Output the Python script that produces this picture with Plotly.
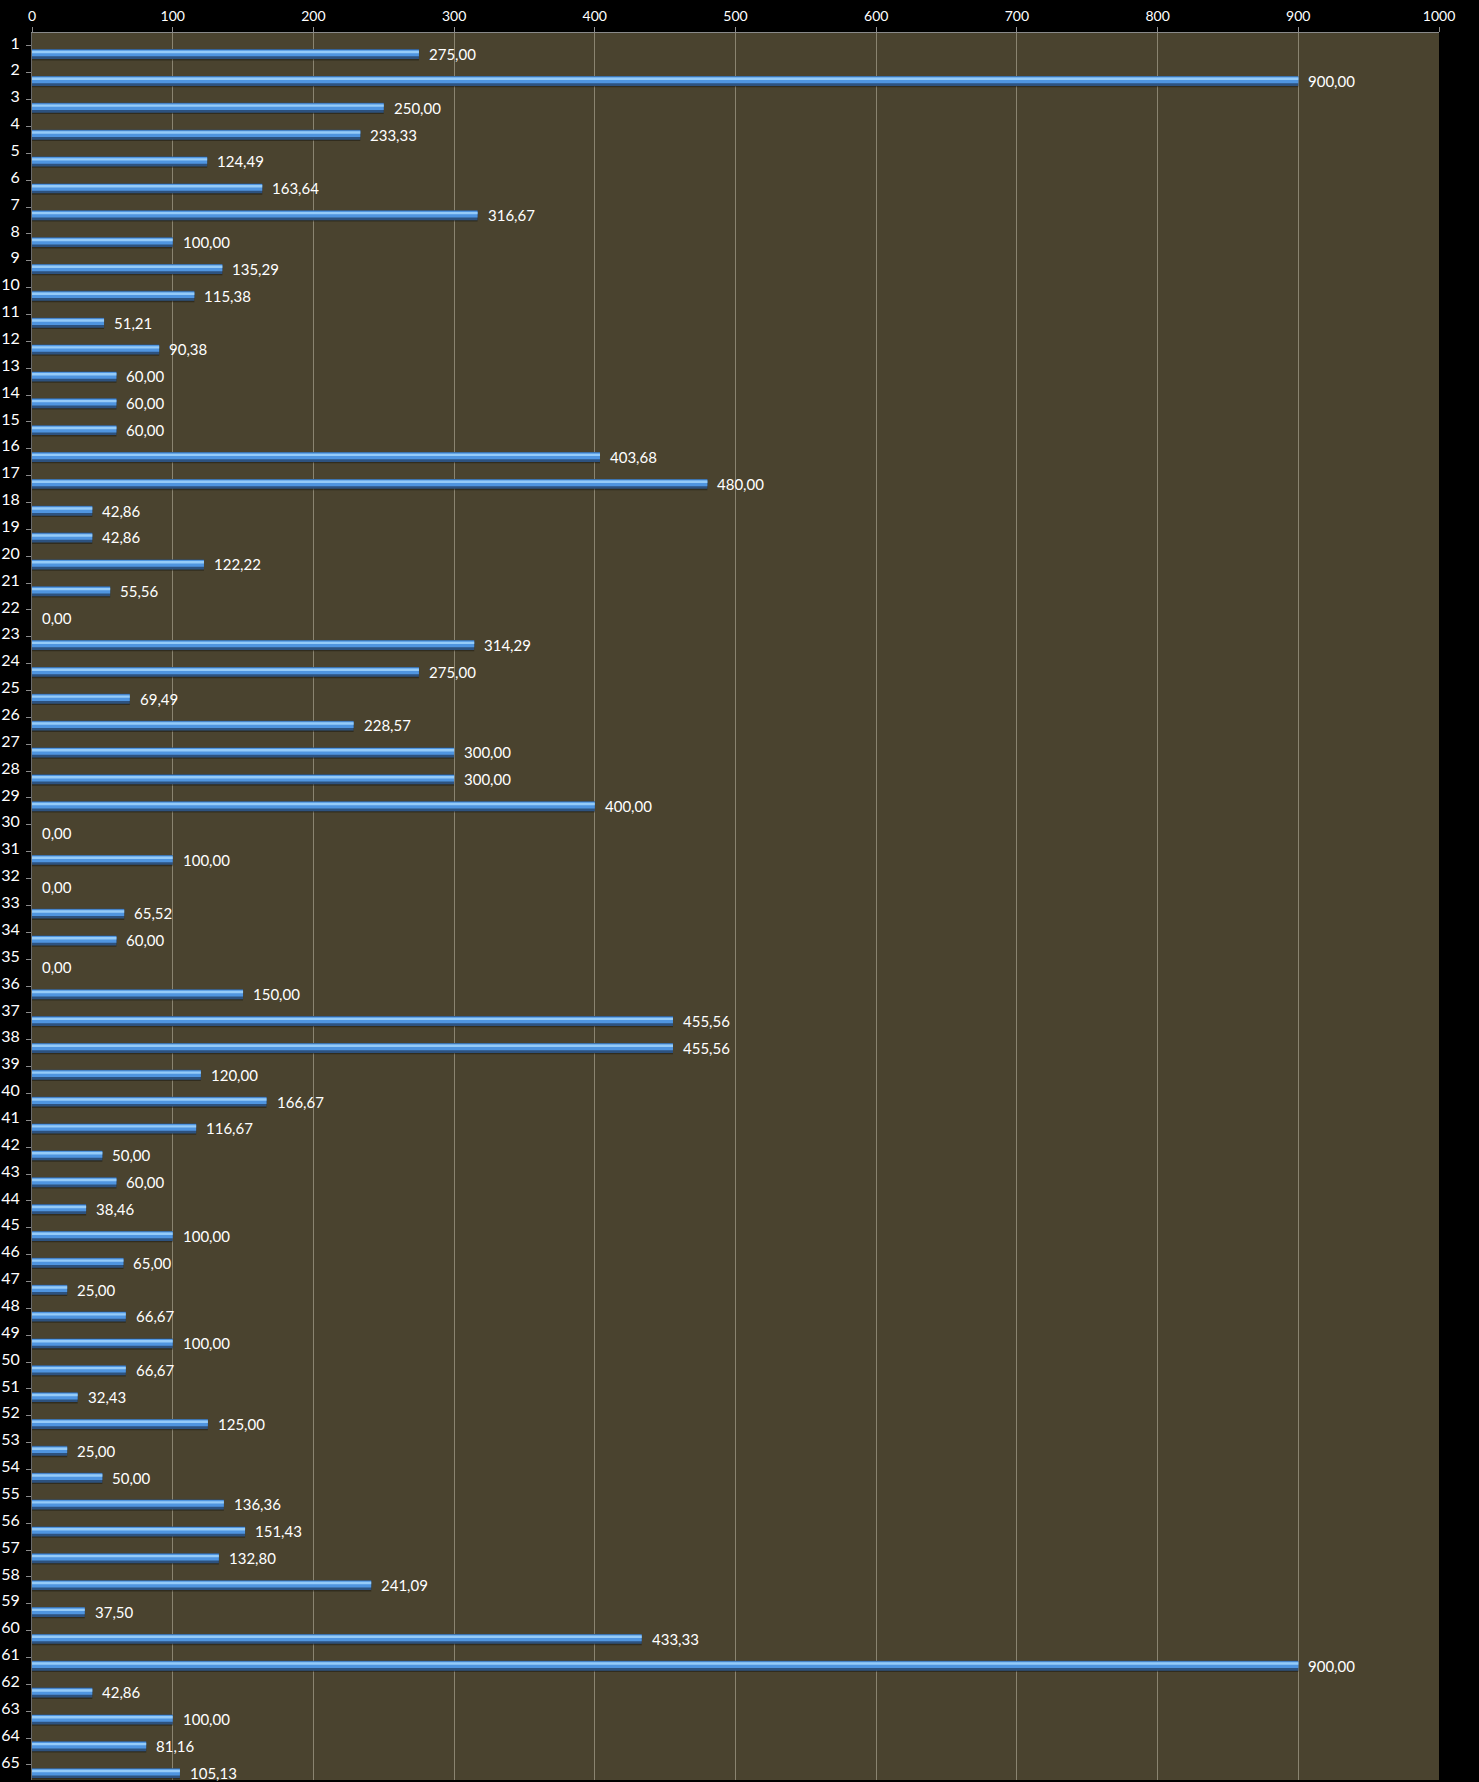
import plotly.graph_objects as go

categories = list(range(1, 66))
values = [275.00, 900.00, 250.00, 233.33, 124.49, 163.64, 316.67, 100.00, 135.29, 115.38,
          51.21, 90.38, 60.00, 60.00, 60.00, 403.68, 480.00, 42.86, 42.86, 122.22,
          55.56, 0.00, 314.29, 275.00, 69.49, 228.57, 300.00, 300.00, 400.00, 0.00,
          100.00, 0.00, 65.52, 60.00, 0.00, 150.00, 455.56, 455.56, 120.00, 166.67,
          116.67, 50.00, 60.00, 38.46, 100.00, 65.00, 25.00, 66.67, 100.00, 66.67,
          32.43, 125.00, 25.00, 50.00, 136.36, 151.43, 132.80, 241.09, 37.50, 433.33,
          900.00, 42.86, 100.00, 81.16, 105.13]
x_ticks = list(range(0, 1001, 100))

FONT = "Lato, 'Open Sans', sans-serif"

fig = go.Figure()
# shadow
fig.add_trace(go.Bar(x=values, y=categories, orientation="h", offset=-0.08, width=0.32,
                     marker=dict(color="rgba(20,18,10,0.45)", line=dict(width=0)),
                     hoverinfo="skip", showlegend=False))
# dark body
fig.add_trace(go.Bar(x=values, y=categories, orientation="h", offset=-0.18, width=0.37,
                     marker=dict(color="#2d527f", line=dict(width=0)),
                     showlegend=False))
# mid tone
fig.add_trace(go.Bar(x=values, y=categories, orientation="h", offset=-0.16, width=0.25,
                     marker=dict(color="#4f95e0", line=dict(width=0)),
                     hoverinfo="skip", showlegend=False))
# highlight
fig.add_trace(go.Bar(x=values, y=categories, orientation="h", offset=-0.12, width=0.09,
                     marker=dict(color="#95cbf8", line=dict(width=0)),
                     hoverinfo="skip", showlegend=False))

annotations = [
    dict(x=v, y=c, xref="x", yref="y", text=f"{v:.2f}".replace(".", ","),
         showarrow=False, xanchor="left", yanchor="middle", xshift=8,
         font=dict(family=FONT, size=15, color="#ffffff"))
    for c, v in zip(categories, values)
]

fig.update_layout(
    width=1479, height=1782,
    barmode="overlay",
    paper_bgcolor="#000000",
    plot_bgcolor="#4a432f",
    margin=dict(l=32, r=40, t=33, b=2),
    annotations=annotations,
    separators=", ",
    font=dict(family=FONT, color="#ffffff"),
)
fig.update_xaxes(
    side="top", range=[0, 1000], tickvals=x_ticks, ticktext=[str(t) for t in x_ticks],
    showgrid=True, gridcolor="#8a8470", gridwidth=1, zeroline=False,
    ticks="outside", ticklen=5, tickcolor="#8a8a8a",
    tickfont=dict(family=FONT, size=14, color="#ffffff"),
    showline=True, linecolor="#8a8a8a", linewidth=1, mirror=False,
)
fig.update_yaxes(
    range=[65.26, 0.22], tickvals=[c - 0.41 for c in categories],
    ticktext=[str(c) for c in categories],
    showgrid=False, zeroline=False, ticks="", ticklen=0,
    minor=dict(tick0=0.7, dtick=1, ticks="outside", ticklen=5, tickcolor="#8a8a8a", showgrid=False),
    tickfont=dict(family=FONT, size=16, color="#ffffff"),
    ticklabelstandoff=8,
    showline=True, linecolor="#6a6a6a", linewidth=1,
)

fig.write_html("out.html", config={"displayModeBar": False},
               post_script="document.body.style.margin='0';document.body.style.overflow='hidden';")
